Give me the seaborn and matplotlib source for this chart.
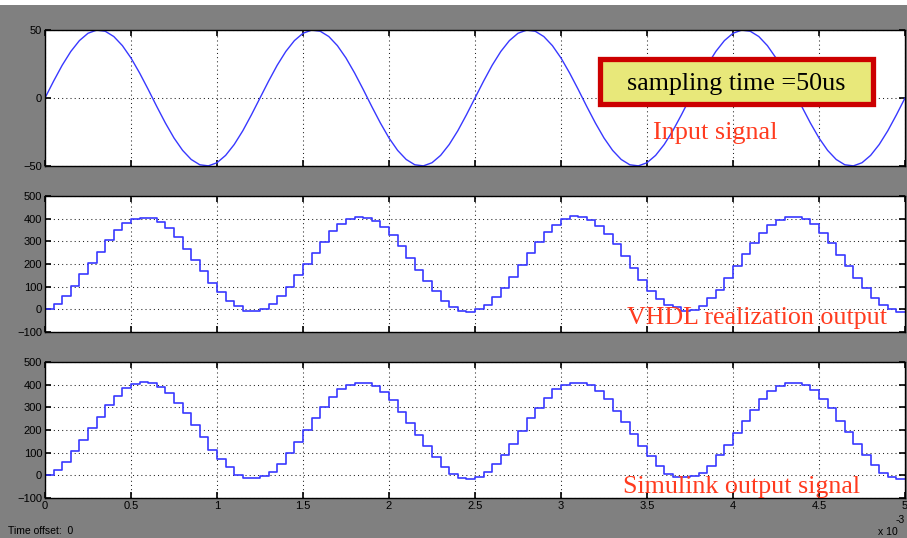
import matplotlib
matplotlib.use("Agg")
import matplotlib.pyplot as plt
from matplotlib.patches import Rectangle
import seaborn as sns
import numpy as np
import pandas as pd

# ---------------- data ----------------
SAMPLE_TIME_MS = 0.05          # 50 us sampling
X_TICKS = [0, 0.5, 1, 1.5, 2, 2.5, 3, 3.5, 4, 4.5, 5]
X_TICK_LABELS = ["0", "0.5", "1", "1.5", "2", "2.5", "3", "3.5", "4", "4.5", "5"]
Y_TICKS_INPUT = [-50, 0, 50]
Y_TICKS_OUTPUT = [-100, 0, 100, 200, 300, 400, 500]

# input signal at every sample instant (101 points, 0 .. 5 ms)
input_signal = [
    0, 12.4, 24.1, 34.2, 42.2, 47.6, 49.9, 49.1, 45.2, 38.5, 29.4, 18.4, 6.3,
    -6.3, -18.4, -29.4, -38.5, -45.2, -49.1, -49.9, -47.6, -42.2, -34.2, -24.1, -12.4,
    0, 12.4, 24.1, 34.2, 42.2, 47.6, 49.9, 49.1, 45.2, 38.5, 29.4, 18.4, 6.3,
    -6.3, -18.4, -29.4, -38.5, -45.2, -49.1, -49.9, -47.6, -42.2, -34.2, -24.1, -12.4,
    0, 12.4, 24.1, 34.2, 42.2, 47.6, 49.9, 49.1, 45.2, 38.5, 29.4, 18.4, 6.3,
    -6.3, -18.4, -29.4, -38.5, -45.2, -49.1, -49.9, -47.6, -42.2, -34.2, -24.1, -12.4,
    0, 12.4, 24.1, 34.2, 42.2, 47.6, 49.9, 49.1, 45.2, 38.5, 29.4, 18.4, 6.3,
    -6.3, -18.4, -29.4, -38.5, -45.2, -49.1, -49.9, -47.6, -42.2, -34.2, -24.1, -12.4,
    0,
]

# VHDL realization output, one value per 50 us step (100 steps)
vhdl_output = [
    0, 25, 60, 103, 155, 205, 255, 308, 349, 381, 397, 405, 401, 385, 358, 317,
    268, 218, 167, 115, 77, 37, 13, -7, -8, 3, 25, 58, 98, 150,
    200, 249, 299, 346, 375, 398, 407, 403, 391, 363, 327, 280, 226, 173, 125, 79,
    38, 9, -6, -10, 0, 18, 53, 94, 144, 196, 248, 295, 341, 374, 398, 412, 409, 394,
    369, 334, 290, 236, 182, 129, 82, 45, 21, 9, -6, -1, 13, 50, 85, 138, 190, 243,
    293, 338, 371, 396, 409, 409, 400, 375, 338, 294, 240, 190, 138, 92, 50, 19, 0, -10,
]

# Simulink output, one value per 50 us step (100 steps)
simulink_output = [
    0, 22, 60, 106, 155, 207, 258, 310, 348, 385, 403, 411, 406, 391, 363, 320,
    275, 222, 169, 113, 71, 35, 3, -13, -13, -3, 16, 52, 99, 149, 200, 255,
    303, 345, 382, 400, 409, 407, 393, 367, 332, 281, 230, 177, 128, 79, 37, 7,
    -13, -16, -7, 16, 49, 91, 138, 195, 251, 299, 341, 379, 400, 409, 409, 397,
    373, 336, 285, 236, 181, 129, 85, 43, 7, -9, -9, -4, 10, 43, 88, 132, 186, 241,
    288, 338, 372, 394, 406, 406, 397, 378, 338, 296, 241, 192, 137, 88, 46, 10, -7, -15,
]

# ---------------- figure ----------------
W, H = 907, 538
GRAY = "#808080"
BLUE = "#3838ff"
RED = "#ff3b1f"

fig = plt.figure(figsize=(W / 100, H / 100), dpi=100, facecolor=GRAY)


def fx(px):
    return px / W


def fy(py):
    return 1 - py / H


def make_ax(top, bottom):
    ax = fig.add_axes([fx(45), fy(bottom), fx(905) - fx(45), fy(top) - fy(bottom)])
    ax.set_facecolor("white")
    ax.set_xlim(0, 5)
    ax.set_xticks(X_TICKS)
    ax.grid(True, color="#222222", linestyle=(0, (1, 3)), linewidth=0.75)
    ax.set_axisbelow(True)
    ax.tick_params(direction="in", top=True, right=True, length=4.5, width=1.2,
                   labelsize=8, pad=2, colors="black")
    for s in ax.spines.values():
        s.set_color("black")
        s.set_linewidth(1.0)
    return ax


n_in = len(input_signal)
t_in = np.arange(n_in) * SAMPLE_TIME_MS
df_in = pd.DataFrame({"t": t_in, "v": input_signal})

t_step = np.arange(len(vhdl_output) + 1) * SAMPLE_TIME_MS
df_vhdl = pd.DataFrame({"t": t_step, "v": vhdl_output + [vhdl_output[-1]]})
df_sim = pd.DataFrame({"t": t_step, "v": simulink_output + [simulink_output[-1]]})

# panel 1 : input
ax1 = make_ax(30, 166)
sns.lineplot(data=df_in, x="t", y="v", ax=ax1, color=BLUE, linewidth=1.0,
             estimator=None, sort=False)
ax1.set_ylim(-50, 50)
ax1.set_yticks(Y_TICKS_INPUT)
ax1.set_xticklabels([])

# panel 2 : VHDL
ax2 = make_ax(196, 332)
sns.lineplot(data=df_vhdl, x="t", y="v", ax=ax2, color=BLUE, linewidth=1.2,
             estimator=None, sort=False, drawstyle="steps-post")
ax2.set_ylim(-100, 500)
ax2.set_yticks(Y_TICKS_OUTPUT)
ax2.set_xticklabels([])

# panel 3 : Simulink
ax3 = make_ax(362, 498)
sns.lineplot(data=df_sim, x="t", y="v", ax=ax3, color=BLUE, linewidth=1.2,
             estimator=None, sort=False, drawstyle="steps-post")
ax3.set_ylim(-100, 500)
ax3.set_yticks(Y_TICKS_OUTPUT)
ax3.set_xticklabels(X_TICK_LABELS)

for ax in (ax1, ax2, ax3):
    ax.set_xlabel("")
    ax.set_ylabel("")
    for lab in ax.get_xticklabels() + ax.get_yticklabels():
        lab.set_family("Liberation Sans")
        lab.set_fontsize(8)

# white strip at the very top
fig.add_artist(Rectangle((0, fy(5)), 1, 1 - fy(5), transform=fig.transFigure,
                         facecolor="white", edgecolor="none", zorder=0))

# sampling time box
bx0, by0, bx1, by1 = 599.5, 59.5, 872.5, 104.5
fig.add_artist(Rectangle((fx(bx0), fy(by1)), fx(bx1) - fx(bx0), fy(by0) - fy(by1),
                         transform=fig.transFigure, facecolor="#e8e87a",
                         edgecolor="#cc0000", linewidth=3.8, zorder=5))
fig.text(fx(627), fy(90), "sampling time =50us", family="Liberation Serif",
         fontsize=18.7, color="black", ha="left", va="baseline", zorder=6)

# red annotations
fig.text(fx(653), fy(139), "Input signal", family="Liberation Serif",
         fontsize=18.8, color=RED, ha="left", va="baseline", zorder=6)
fig.text(fx(627), fy(324), "VHDL realization output", family="Liberation Serif",
         fontsize=18.7, color=RED, ha="left", va="baseline", zorder=6)
fig.text(fx(623), fy(492.5), "Simulink output signal", family="Liberation Serif",
         fontsize=18.7, color=RED, ha="left", va="baseline", zorder=6)

# bottom texts
fig.text(fx(8), fy(534), "Time offset:  0", family="Liberation Sans",
         fontsize=7.5, color="black", ha="left", va="baseline")
fig.text(fx(878), fy(535), "x 10", family="Liberation Sans",
         fontsize=7.5, color="black", ha="left", va="baseline")
fig.text(fx(896), fy(523), "-3", family="Liberation Sans",
         fontsize=7.5, color="black", ha="left", va="baseline")

fig.savefig("out.png", dpi=100, facecolor=GRAY)
